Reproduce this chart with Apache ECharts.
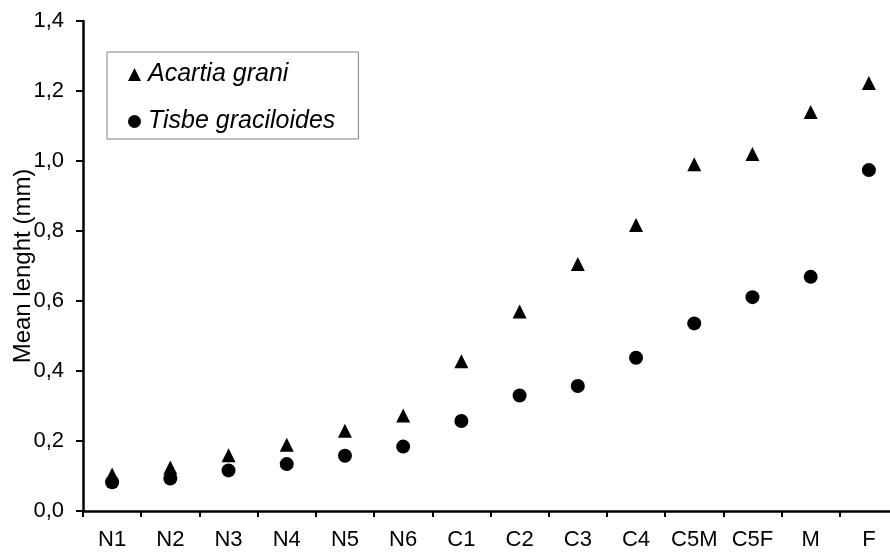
<!DOCTYPE html>
<html>
<head>
<meta charset="utf-8">
<script src="https://cdn.jsdelivr.net/npm/echarts@6/dist/echarts.min.js"></script>
<style>html,body{margin:0;padding:0;background:#fff}#c{width:890px;height:556px}</style>
</head>
<body>
<div id="c"></div>
<script>
const categories = ['N1','N2','N3','N4','N5','N6','C1','C2','C3','C4','C5M','C5F','M','F'];
const acartia = [0.104, 0.124, 0.159, 0.189, 0.229, 0.273, 0.428, 0.570, 0.706, 0.817, 0.991, 1.020, 1.140, 1.223];
const tisbe = [0.082, 0.093, 0.116, 0.134, 0.158, 0.184, 0.257, 0.330, 0.357, 0.438, 0.536, 0.611, 0.669, 0.974];
const seriesNames = ['Acartia grani', 'Tisbe graciloides'];
const yAxisName = 'Mean lenght (mm)';

const FONT = "'Liberation Sans', Arial, sans-serif";
const chart = echarts.init(document.getElementById('c'), null, {renderer: 'canvas'});
chart.setOption({
  animation: false,
  backgroundColor: '#fff',
  grid: {left: 83, right: -8, top: 21, bottom: 45, containLabel: false, outerBoundsMode: 'none'},
  legend: {
    orient: 'vertical',
    left: 107, top: 52,
    padding: [10, 23, 5, 21],
    borderColor: '#808080', borderWidth: 1,
    itemWidth: 13, itemHeight: 13, itemGap: 22,
    itemStyle: {opacity: 1},
    textStyle: {fontFamily: FONT, fontSize: 25, fontStyle: 'italic', color: '#000', padding: [0,0,0,2]},
    data: [{name: seriesNames[0], icon: 'triangle'}, {name: seriesNames[1], icon: 'circle'}]
  },
  xAxis: {
    type: 'category',
    data: categories,
    boundaryGap: true,
    axisLine: {lineStyle: {color: '#000', width: 2.5}},
    axisTick: {show: true, length: 6, interval: 0, alignWithLabel: false, lineStyle: {color: '#000', width: 2}},
    axisLabel: {interval: 0, margin: 18, color: '#000', fontFamily: FONT, fontSize: 22},
    splitLine: {show: false}
  },
  yAxis: {
    type: 'value',
    min: 0, max: 1.4, interval: 0.2,
    name: yAxisName,
    nameLocation: 'middle',
    nameGap: 48,
    nameRotate: 90,
    nameMoveOverlap: false,
    nameTextStyle: {fontFamily: FONT, fontSize: 24, color: '#000'},
    axisLine: {show: true, lineStyle: {color: '#000', width: 2.5}},
    axisTick: {show: true, length: 7, lineStyle: {color: '#000', width: 2}},
    axisLabel: {margin: 19, color: '#000', fontFamily: FONT, fontSize: 22,
      formatter: v => v.toFixed(1).replace('.', ',')},
    splitLine: {show: false}
  },
  series: [
    {name: seriesNames[0], type: 'scatter', data: acartia, symbol: 'triangle', symbolSize: 14,
     itemStyle: {color: '#000', opacity: 1}, z: 3},
    {name: seriesNames[1], type: 'scatter', data: tisbe, symbol: 'circle', symbolSize: 14,
     itemStyle: {color: '#000', opacity: 1}, z: 2}
  ]
});
</script>
</body>
</html>
